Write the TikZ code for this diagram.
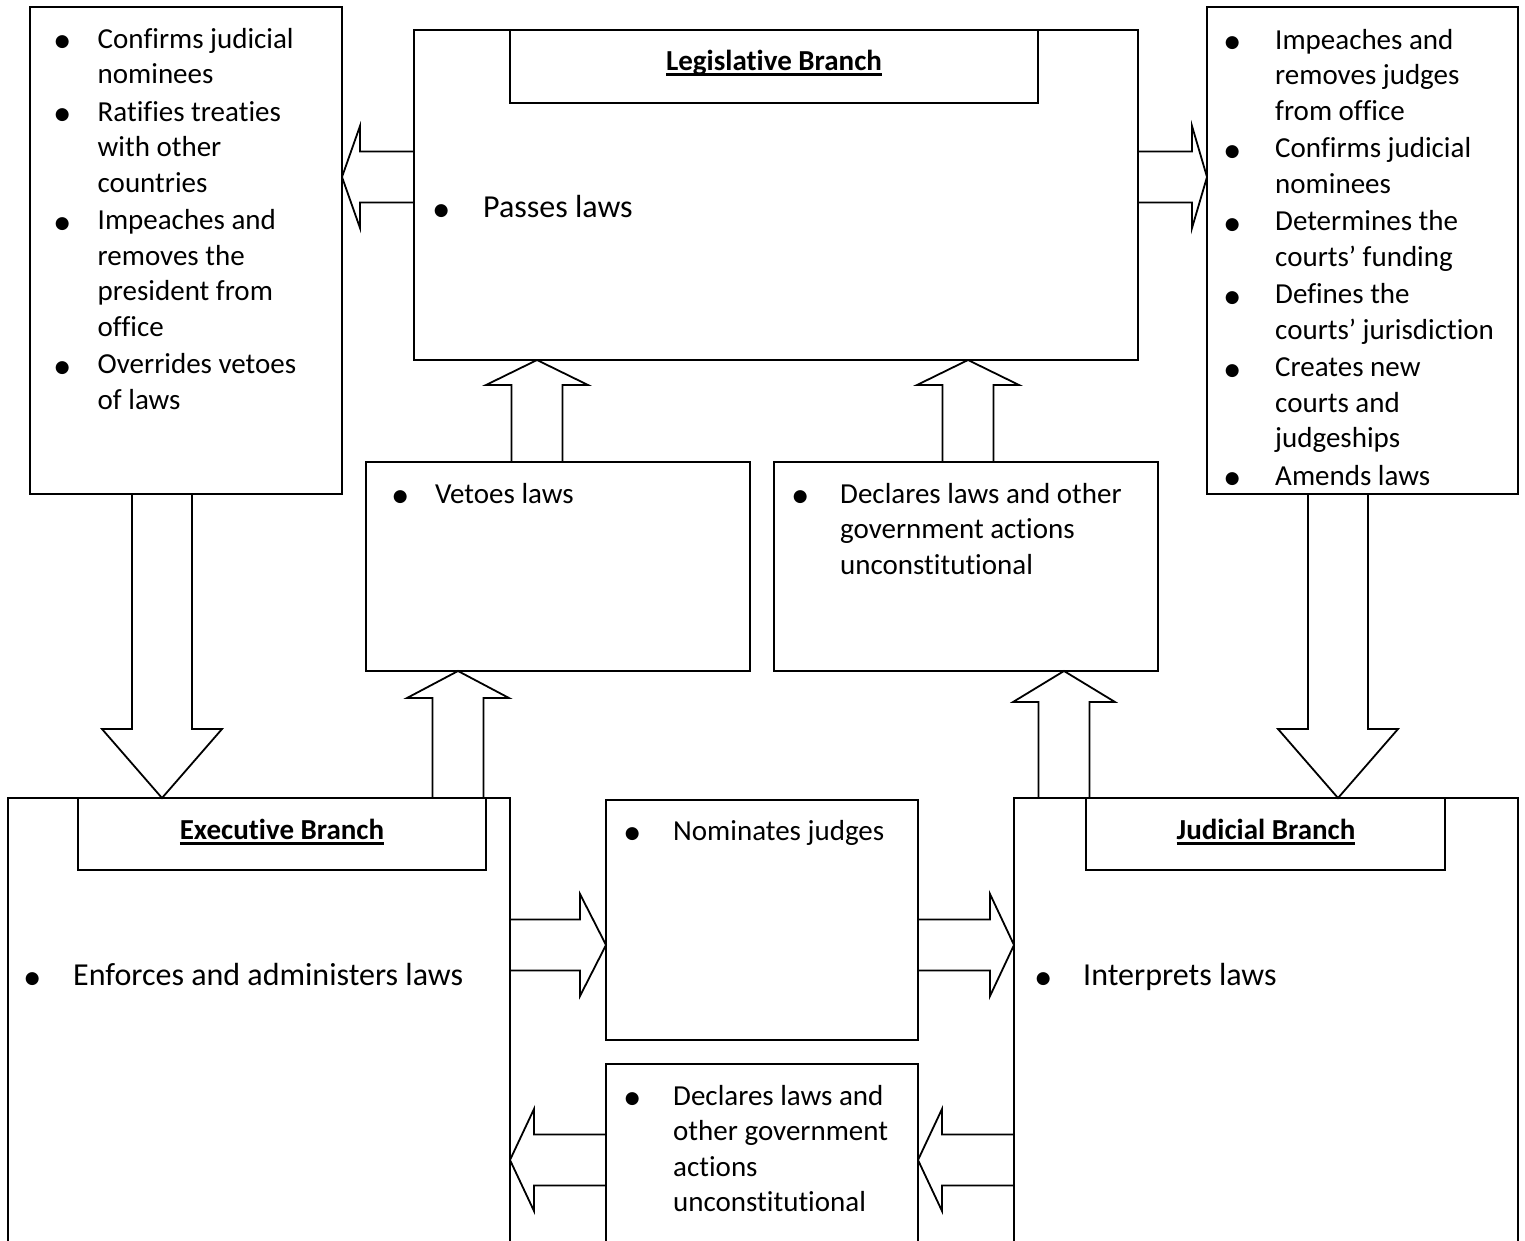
\documentclass[tikz,border=0pt]{standalone}
\usepackage{fontspec}
\setmainfont{Carlito}[Ligatures={NoCommon,NoDiscretionary,NoRare}]
\newfontfamily\dvs{DejaVu Sans}
\usetikzlibrary{calc}
\newcommand\bul{\makebox[0pt]{\dvs\fontsize{17}{17}\selectfont\raisebox{1.2pt}{●}}}
\newcommand\myul[1]{\setbox0\hbox{#1}\rlap{\rule[-5.5pt]{\wd0}{2.6pt}}\box0}
\newcommand\sm{\fontsize{29}{35.5}\selectfont}
\newcommand\bg{\fontsize{32}{38}\selectfont}
% block arrow: from, to, shaft half width, head half width, head length
\newcommand\blk[5]{%
  \coordinate (sa) at (#1);
  \coordinate (ta) at (#2);
  \coordinate (hb) at ($(ta)!#5!(sa)$);
  \draw[barrow] ($(sa)!#3!90:(ta)$) -- ($(hb)!#3!90:(ta)$) -- ($(hb)!#4!90:(ta)$)
     -- (ta) -- ($(hb)!#4!-90:(ta)$) -- ($(hb)!#3!-90:(ta)$) -- ($(sa)!#3!-90:(ta)$) -- cycle;
}
\begin{document}
\begin{tikzpicture}[x=1pt,y=-1pt,
  box/.style={draw, line width=2.4pt, inner sep=0pt, outer sep=0pt, anchor=north west},
  barrow/.style={draw, line width=1.8pt, line join=miter},
  lst/.style={inner sep=0pt, anchor=base west, font=\sm},
  big/.style={inner sep=0pt, anchor=base west, font=\bg},
  ttl/.style={inner sep=0pt, anchor=base, font=\sm\bfseries}]
\useasboundingbox (0,0) rectangle (1525,1240);
\clip (0,0) rectangle (1525,1240);
% boxes
\node[box, minimum width=312pt, minimum height=487pt] (sen) at (30,7) {};
\node[box, minimum width=724pt, minimum height=330pt] (leg) at (414,30) {};
\node[box, minimum width=528pt, minimum height=73pt] (legT) at (510,30) {};
\node[box, minimum width=311pt, minimum height=487pt] (rj) at (1207,7) {};
\node[box, minimum width=384pt, minimum height=209pt] (veto) at (366,462) {};
\node[box, minimum width=384pt, minimum height=209pt] (decl1) at (774,462) {};
\node[box, minimum width=502pt, minimum height=460pt] (exe) at (8,798) {};
\node[box, minimum width=408pt, minimum height=72pt] (exeT) at (78,798) {};
\node[box, minimum width=504pt, minimum height=460pt] (jud) at (1014,798) {};
\node[box, minimum width=359pt, minimum height=72pt] (judT) at (1086,798) {};
\node[box, minimum width=312pt, minimum height=240pt] (nom) at (606,800) {};
\node[box, minimum width=312pt, minimum height=200pt] (decl2) at (606,1064) {};
% block arrows
\blk{$(leg.north west)+(0,147)$}{$(sen.north east)+(0,170)$}{25.5pt}{51pt}{18pt}
\blk{$(leg.north east)+(0,147)$}{$(rj.north west)+(0,170)$}{25.5pt}{51pt}{15pt}
\blk{$(veto.north west)+(171,0)$}{$(leg.south west)+(123,0)$}{25.5pt}{51pt}{25pt}
\blk{$(decl1.north west)+(194,0)$}{$(leg.south west)+(554,0)$}{25.5pt}{51pt}{25pt}
\blk{$(sen.south west)+(132,0)$}{$(exe.north west)+(154,0)$}{30pt}{60pt}{69pt}
\blk{$(rj.south west)+(131,0)$}{$(jud.north west)+(324,0)$}{30pt}{60pt}{69pt}
\blk{$(exe.north west)+(450,0)$}{$(veto.south west)+(92,0)$}{25.5pt}{51pt}{27pt}
\blk{$(jud.north west)+(50,0)$}{$(decl1.south west)+(290,0)$}{25.5pt}{51pt}{31pt}
\blk{$(exe.north east)+(0,147)$}{$(nom.north west)+(0,145)$}{25.5pt}{51pt}{26pt}
\blk{$(nom.north east)+(0,145)$}{$(jud.north west)+(0,147)$}{25.5pt}{51pt}{24pt}
\blk{$(decl2.north west)+(0,96)$}{$(exe.north east)+(0,362)$}{25.5pt}{51pt}{24pt}
\blk{$(jud.north west)+(0,362)$}{$(decl2.north east)+(0,96)$}{25.5pt}{51pt}{24pt}
% titles
\node[ttl] (legL) at (774,70.5) {\myul{Legislative Branch}};
\node[ttl] (exeL) at (282,839.5) {\myul{Executive Branch}};
\node[ttl] (judL) at (1266,839.5) {\myul{Judicial Branch}};
% texts
\node[lst] (senX) at (62,48) {\begin{tabular}[t]{@{}l@{\hspace{35.5pt}}l@{}}
\bul & Confirms judicial\\ & nominees\\[2pt]
\bul & Ratifies treaties\\ & with other\\ & countries\\[2pt]
\bul & Impeaches and\\ & removes the\\ & president from\\ & office\\[2pt]
\bul & Overrides vetoes\\ & of laws
\end{tabular}};
\node[lst] (rjX) at (1232,49) {\begin{tabular}[t]{@{}l@{\hspace{43pt}}l@{}}
\bul & Impeaches and\\ & removes judges\\ & from office\\[2pt]
\bul & Confirms judicial\\ & nominees\\[2pt]
\bul & Determines the\\ & courts’ funding\\[2pt]
\bul & Defines the\\ & courts’ jurisdiction\\[2pt]
\bul & Creates new\\ & courts and\\ & judgeships\\[2pt]
\bul & Amends laws
\end{tabular}};
\node[big] (legX) at (441,217) {\begin{tabular}[t]{@{}l@{\hspace{42pt}}l@{}}\bul & Passes laws\end{tabular}};
\node[lst] (vetoX) at (400,503) {\begin{tabular}[t]{@{}l@{\hspace{35pt}}l@{}}\bul & Vetoes laws\end{tabular}};
\node[lst] (decl1X) at (800,503) {\begin{tabular}[t]{@{}l@{\hspace{40pt}}l@{}}
\bul & Declares laws and other\\ & government actions\\ & unconstitutional\end{tabular}};
\node[big] (exeX) at (32,985) {\begin{tabular}[t]{@{}l@{\hspace{41pt}}l@{}}\bul & Enforces and administers laws\end{tabular}};
\node[big] (judX) at (1043,985) {\begin{tabular}[t]{@{}l@{\hspace{40pt}}l@{}}\bul & Interprets laws\end{tabular}};
\node[lst] (nomX) at (632,840) {\begin{tabular}[t]{@{}l@{\hspace{41pt}}l@{}}\bul & Nominates judges\end{tabular}};
\node[lst] (decl2X) at (632,1105) {\begin{tabular}[t]{@{}l@{\hspace{41pt}}l@{}}
\bul & Declares laws and\\ & other government\\ & actions\\ & unconstitutional\end{tabular}};
\end{tikzpicture}
\end{document}
